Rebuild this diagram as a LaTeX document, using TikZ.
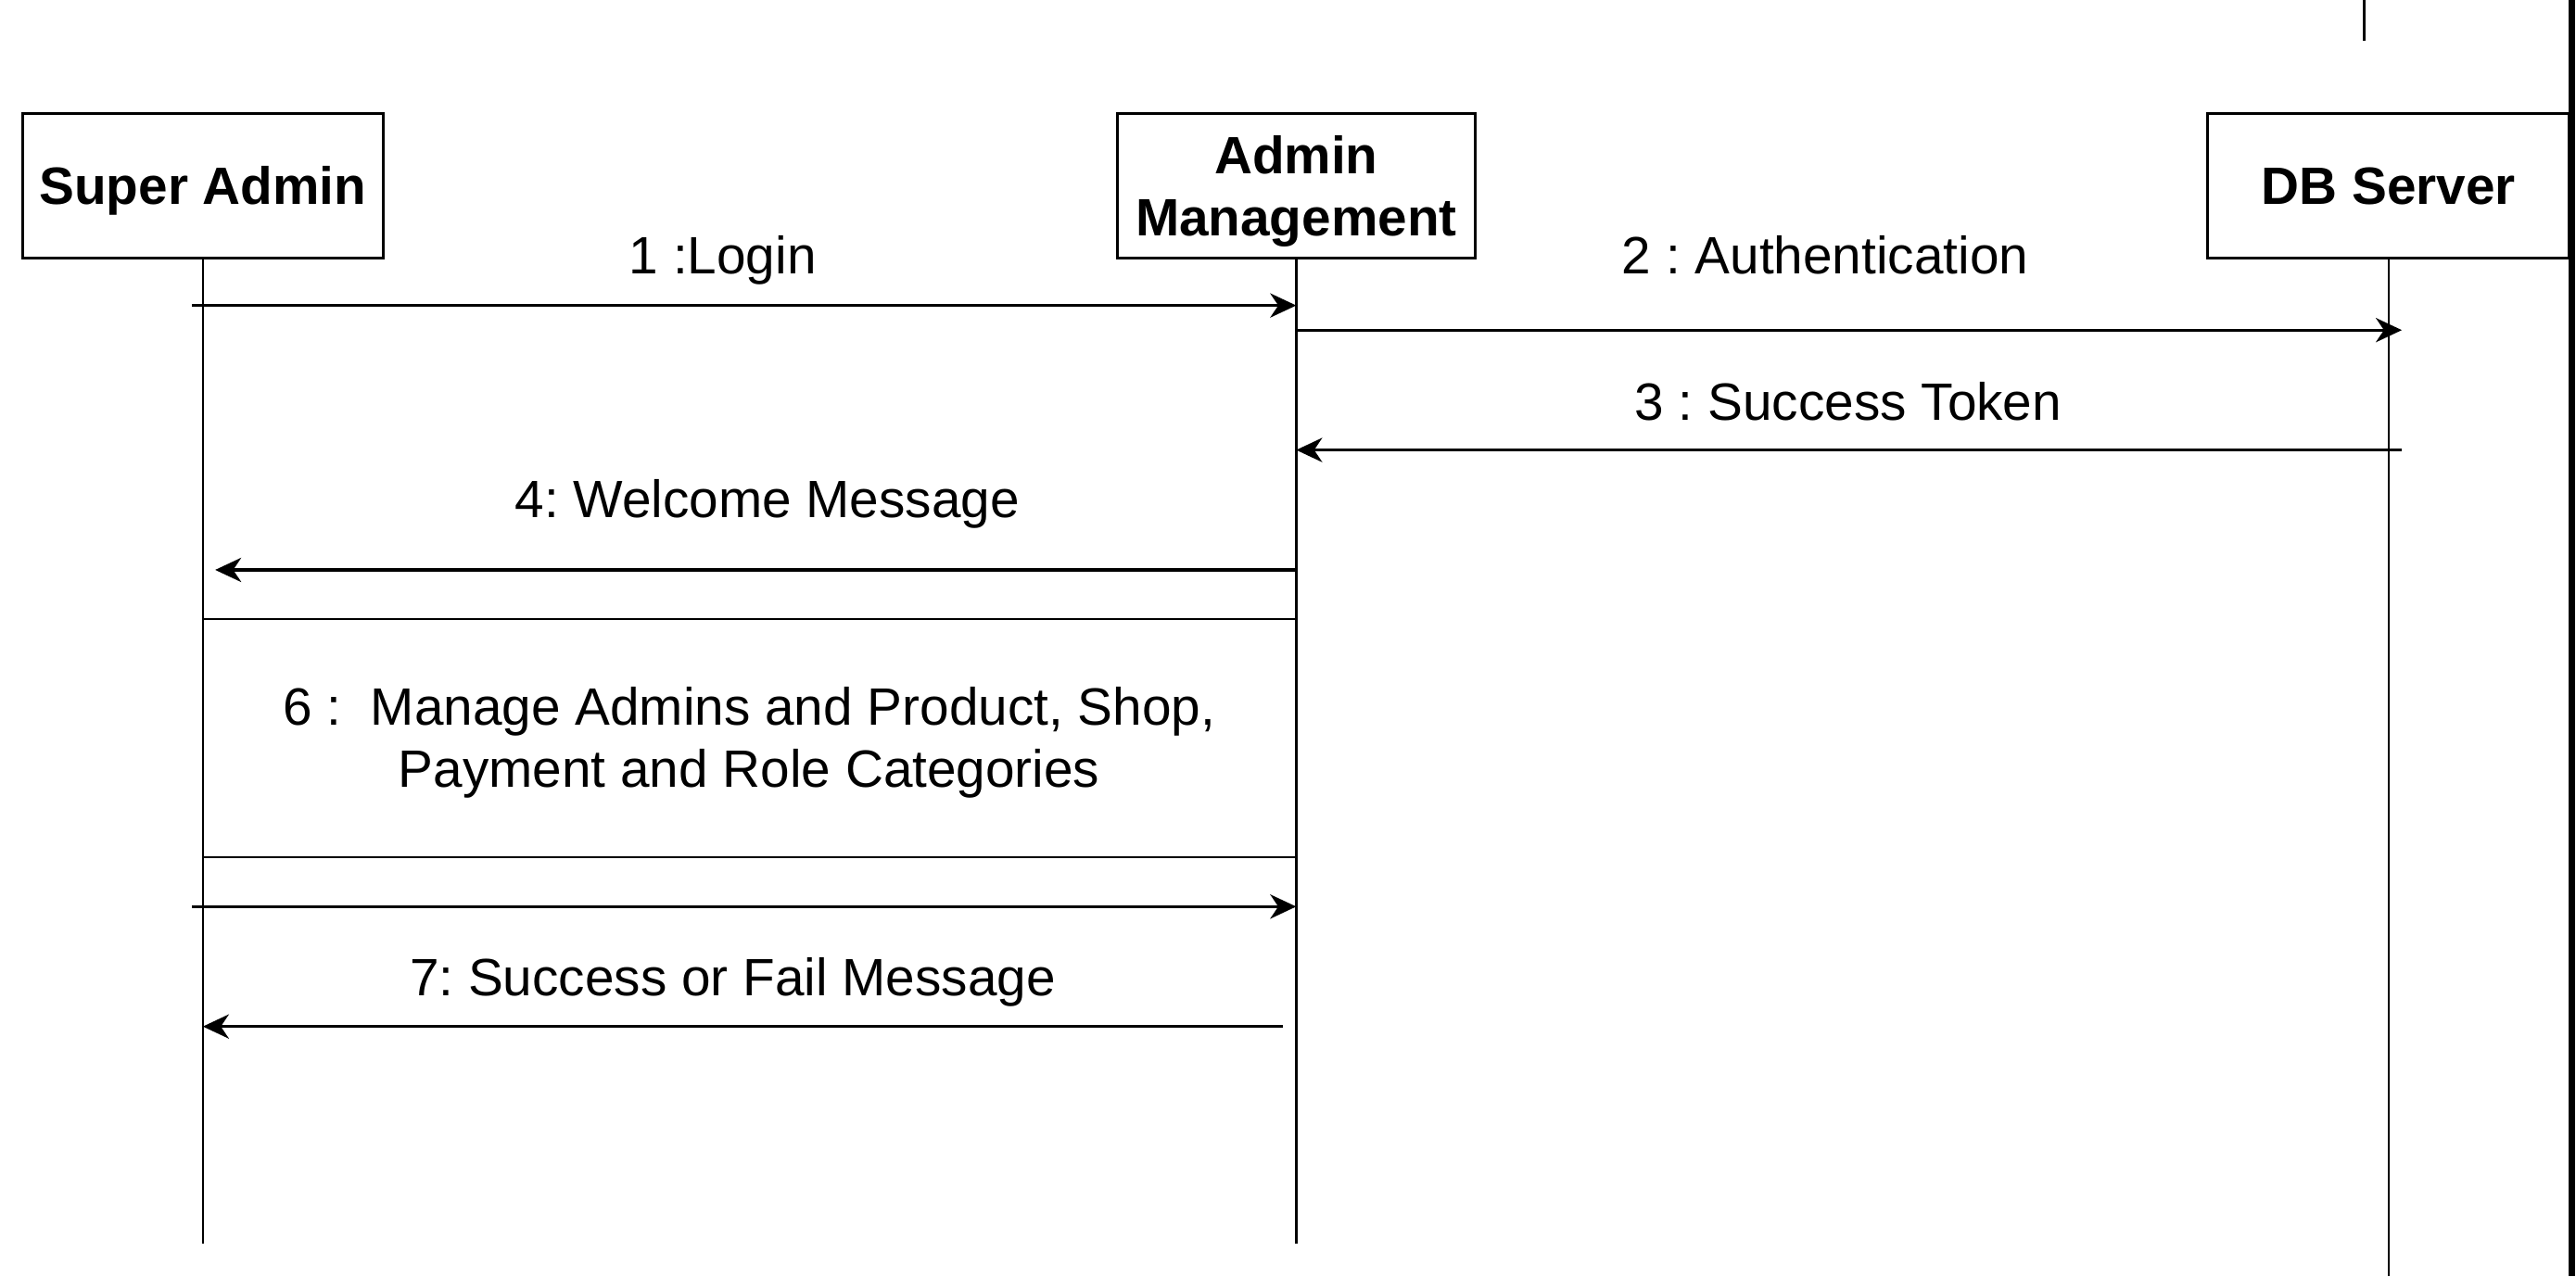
\documentclass[tikz,border=0pt]{standalone}
\usepackage{fontspec}
\setmainfont{Liberation Sans}
\usetikzlibrary{arrows.meta}

\begin{document}
\frenchspacing
\begin{tikzpicture}[
  x=0.01cm, y=-0.01cm,
  actor/.style={draw,rectangle,line width=0.5pt,minimum height=0.88cm,inner sep=0pt,text depth=0pt,align=center,font=\fontsize{9.1}{10.7}\selectfont\bfseries},
  lbl/.style={anchor=base,font=\fontsize{9.1}{10.7}\selectfont},
  msg/.style={-{Stealth[length=4.5pt,width=4.2pt,inset=1.4pt]},line width=0.5pt},
  life/.style={line width=0.4pt}
]
  \useasboundingbox (0,0) rectangle (1568,777);

  % actors
  \node[actor,minimum width=2.19cm] (sa) at (123.5,113) {Super Admin};
  \node[actor,minimum width=2.18cm] (am) at (789,113) {Admin\\Management};
  \node[actor,minimum width=2.2cm] (db) at (1454,113) {DB Server};

  % lifeline ends
  \coordinate (sa-end) at (123.5,757);
  \coordinate (am-end) at (789,757);
  \coordinate (db-end) at (1454,777);

  % page edge
  \coordinate (edge-t) at (1565.5,0);
  \coordinate (edge-b) at (1565.5,777);
  \coordinate (tick-t) at (1439,0);
  \coordinate (tick-b) at (1439,25);

  % message ends
  \coordinate (m1a) at (117,186);  \coordinate (m1b) at (789,186);
  \coordinate (m2a) at (789,201);  \coordinate (m2b) at (1462,201);
  \coordinate (m3a) at (1462,274); \coordinate (m3b) at (789,274);
  \coordinate (m4a) at (789,347);  \coordinate (m4b) at (131,347);
  \coordinate (f1a) at (123.5,377); \coordinate (f1b) at (789,377);
  \coordinate (f2a) at (123.5,522); \coordinate (f2b) at (789,522);
  \coordinate (m6a) at (117,552);  \coordinate (m6b) at (789,552);
  \coordinate (m7a) at (781,625);  \coordinate (m7b) at (123.5,625);

  % labels
  \node[lbl] (l1) at (440,167) {1 :Login};
  \node[lbl] (l2) at (1111,167) {2 : Authentication};
  \node[lbl] (l3) at (1125,255.7) {3 : Success Token};
  \node[lbl] (l4) at (467,315) {4: Welcome Message};
  \node[font=\fontsize{9.1}{10.8}\selectfont,align=center] (l6) at (456,452) {6 :\ \ Manage Admins and Product, Shop,\\Payment and Role Categories};
  \node[lbl] (l7) at (446,606) {7: Success or Fail Message};

  % lifelines
  \draw (sa) edge[life] (sa-end);
  \draw (am) edge[life] (am-end);
  \draw (db) edge[life] (db-end);
  \draw (edge-t) edge[line width=1.1pt] (edge-b);
  \draw (tick-t) edge[life] (tick-b);

  % messages
  \draw (m1a) edge[msg] (m1b);
  \draw (m2a) edge[msg] (m2b);
  \draw (m3a) edge[msg] (m3b);
  \draw (m4a) edge[msg] (m4b);
  \draw (m6a) edge[msg] (m6b);
  \draw (m7a) edge[msg] (m7b);

  % step 6 frame
  \draw (f1a) edge[life] (f1b);
  \draw (f2a) edge[life] (f2b);

\end{tikzpicture}
\end{document}
